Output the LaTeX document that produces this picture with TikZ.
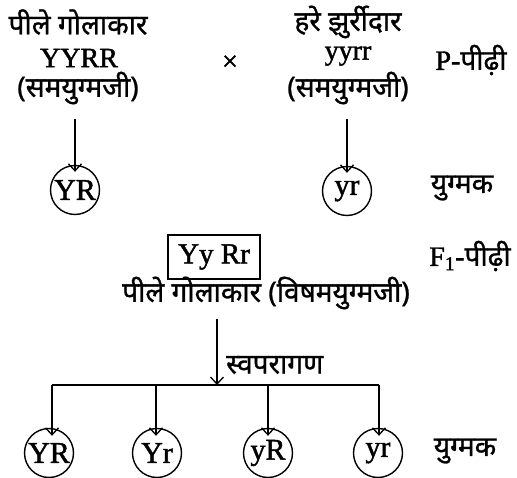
\documentclass[tikz,border=0pt]{standalone}
\usepackage{fontspec}
\setmainfont{Liberation Serif}[FakeBold=1.5]
\newfontfamily\dev[Script=Devanagari,FakeBold=1]{Noto Sans}
\usetikzlibrary{arrows.meta}
\newcommand{\dvf}{\dev\fontsize{28}{30}\selectfont}
\begin{document}
\begin{tikzpicture}[x=1pt,y=-1pt,
  dv/.style={font=\dvf, inner sep=1pt},
  lt/.style={font=\fontsize{28}{30}\selectfont, inner sep=1pt},
  gam/.style={circle, draw, line width=1.4pt, minimum size=49pt, inner sep=0pt, font=\fontsize{30}{30}\selectfont},
  gbox/.style={draw, line width=1.2pt, minimum width=92pt, minimum height=44pt, inner sep=2pt, font=\fontsize{29}{30}\selectfont},
  arr/.style={-{Straight Barb[length=7pt,width=13pt]}, line width=1.3pt},
  ln/.style={line width=1.3pt}]
\useasboundingbox (0,0) rectangle (517,478);
% P generation
\node[dv] (t1) at (78,22) {पीले गोलाकार};
\node[lt] (t2) at (79,58) {YYRR};
\node[dv] (t3) at (78,88) {(समयुग्मजी)};
\node[lt] (x) at (230,63) {×};
\node[dv] (t4) at (348,22) {हरे झुर्रीदार};
\node[lt] (t5) at (348,56) {yyrr};
\node[dv] (t6) at (348,88) {(समयुग्मजी)};
\node[lt] (p) at (471,60) {P-{\dvf पीढ़ी}};
% gametes
\node[gam] (g1) at (75,190) {YR};
\node[gam] (g2) at (347,191) {yr};
\node[dv] (gm1) at (462,188) {युग्मक};
\coordinate (a1) at (75,119);
\coordinate (a2) at (347,119);
\draw[arr] (a1) -- ([yshift=-7pt]g1.north);
\draw[arr] (a2) -- ([yshift=-7pt]g2.north);
% F1
\node[gbox] (f1) at (214,257) {Yy Rr};
\node[lt] (f1l) at (470,256) {F\textsubscript{1}-{\dvf पीढ़ी}};
\node[dv] (ft) at (266,293) {पीले गोलाकार (विषमयुग्मजी)};
\coordinate (j) at (217,385);
\coordinate (a3) at (217,319);
\draw[arr] (a3) -- (j);
\node[dv, anchor=west] (sp) at (225,365) {स्वपरागण};
% F2 gametes
\node[gam] (h1) at (49,453) {YR};
\node[gam] (h2) at (157,453) {Yr};
\node[gam] (h3) at (268,453) {yR};
\node[gam] (h4) at (378,453) {yr};
\node[dv] (gm2) at (465,451) {युग्मक};
\coordinate (b1) at (52,385);
\coordinate (b2) at (156,385);
\coordinate (b3) at (268,385);
\coordinate (b4) at (379,385);
\draw[ln] (b1) -- (b4);
\draw[arr] (b1) -- ([yshift=-8pt]b1 |- h1.north);
\draw[arr] (b2) -- ([yshift=-8pt]b2 |- h2.north);
\draw[arr] (b3) -- ([yshift=-8pt]b3 |- h3.north);
\draw[arr] (b4) -- ([yshift=-8pt]b4 |- h4.north);
\end{tikzpicture}
\end{document}
